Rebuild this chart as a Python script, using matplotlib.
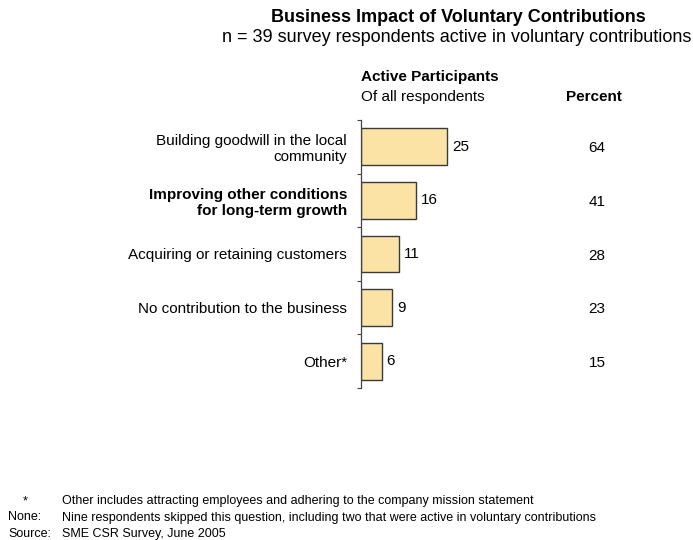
import matplotlib.pyplot as plt

plt.rcParams['font.family'] = ['Liberation Sans', 'DejaVu Sans']

# --------------------------
# Data
# --------------------------
categories = [
    "Building goodwill in the local\ncommunity",
    "Improving other conditions\nfor long-term growth",
    "Acquiring or retaining customers",
    "No contribution to the business",
    "Other*",
]
active = [25, 16, 11, 9, 6]
percent = [64, 41, 28, 23, 15]

title = "Business Impact of Voluntary Contributions"
subtitle = "n = 39 survey respondents active in voluntary contributions"
footnotes = [
    ("*", "Other includes attracting employees and adhering to the company mission statement"),
    ("None:", "Nine respondents skipped this question, including two that were active in voluntary contributions"),
    ("Source:", "SME CSR Survey, June 2005"),
]

# --------------------------
# Figure + axes
# --------------------------
W, H = 693, 540
fig = plt.figure(figsize=(W / 100, H / 100), dpi=100)
ax = fig.add_axes([361 / W, (H - 388) / H, (W - 361) / W, (388 - 120) / H])

ypos = list(range(len(categories)))
ax.barh(ypos, active, height=0.69, color="#FBE3A5", edgecolor="#3a3a3a", linewidth=1.0)

ax.set_xlim(0, 96.5)
ax.set_ylim(len(categories) - 0.5, -0.5)

for y, v in zip(ypos, active):
    ax.text(v + 1.4, y, str(v), va="center", ha="left", fontsize=11)
for y, p in zip(ypos, percent):
    ax.text(68.6, y + 0.03, str(p), va="center", ha="center", fontsize=11)

# category labels + boundary ticks
ax.set_yticks(ypos)
ax.set_yticklabels(categories, fontsize=11, linespacing=1.2)
ax.get_yticklabels()[1].set_fontweight("bold")
ax.tick_params(axis="y", which="major", length=0, pad=10)
ax.set_yticks([i - 0.5 for i in range(len(categories) + 1)], minor=True)
ax.tick_params(axis="y", which="minor", length=3, color="#444444", width=0.8)
ax.set_xticks([])

for s in ["top", "right", "bottom"]:
    ax.spines[s].set_visible(False)
ax.spines["left"].set_color("#444444")
ax.spines["left"].set_linewidth(0.9)

# --------------------------
# Headers, title, notes
# --------------------------
fig.text(458 / W, 1 - 17 / H, title, ha="center", va="center", fontsize=13, fontweight="bold")
fig.text(691 / W, 1 - 38 / H, subtitle, ha="right", va="center", fontsize=13)
fig.text(361 / W, 1 - 77 / H, "Active Participants", ha="left", va="center", fontsize=11, fontweight="bold")
fig.text(361 / W, 1 - 97 / H, "Of all respondents", ha="left", va="center", fontsize=11)
fig.text(594 / W, 1 - 97 / H, "Percent", ha="center", va="center", fontsize=11, fontweight="bold")

for i, (mark, note) in enumerate(footnotes):
    y = 1 - (501 + i * 16.5) / H
    mx = 23 if mark == "*" else 8
    fig.text(mx / W, y, mark, ha="left", va="center", fontsize=9)
    fig.text(62 / W, y, note, ha="left", va="center", fontsize=9)

plt.savefig("out.png", dpi=100)
